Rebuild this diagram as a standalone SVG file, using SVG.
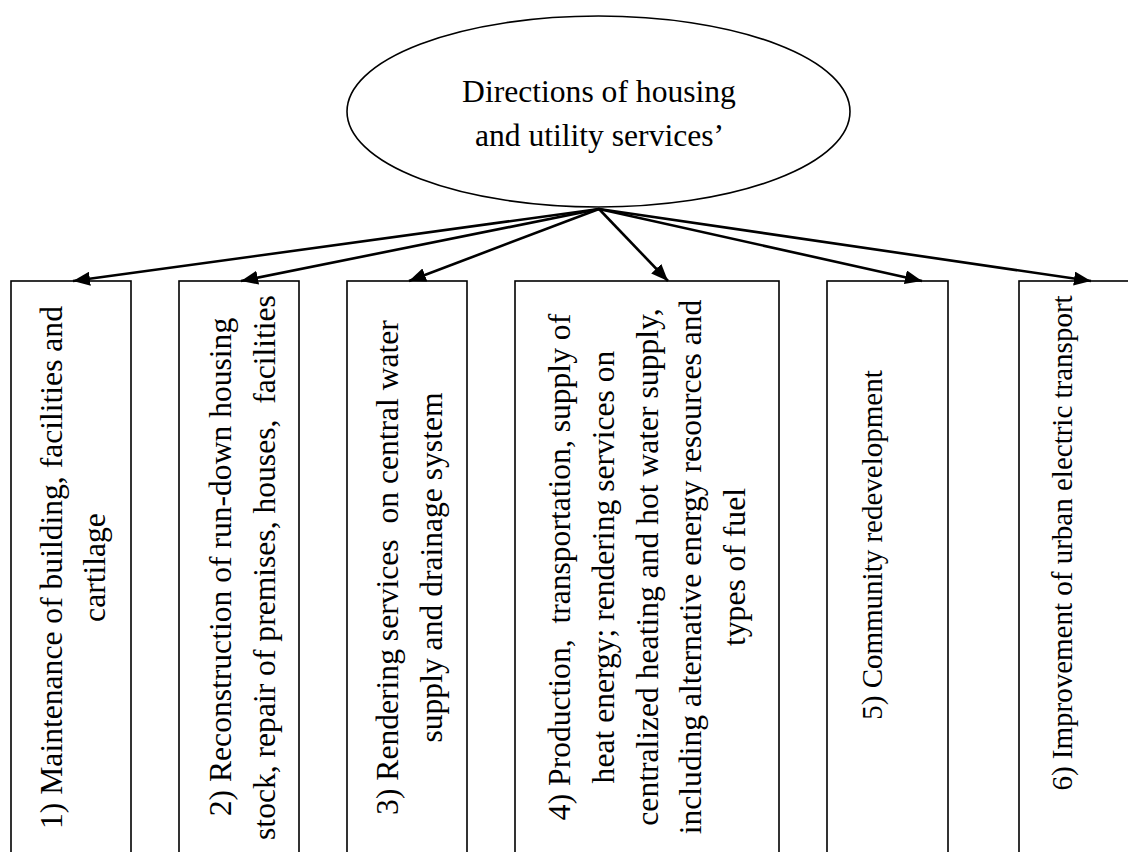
<svg xmlns="http://www.w3.org/2000/svg" width="1128" height="852" viewBox="0 0 1128 852">
<style>
.box{fill:#fff;stroke:#000;stroke-width:1.6}
.t{font-family:"Liberation Serif","Times New Roman",serif;font-size:31.6px;fill:#000;text-anchor:middle}
.s{font-size:29px}
.c{stroke:#000;stroke-width:2.6;fill:none;marker-end:url(#ah)}
</style>
<defs>
<marker id="ah" markerUnits="userSpaceOnUse" markerWidth="20" markerHeight="14" refX="17" refY="7" orient="auto">
<path d="M0,0 L17,7 L0,14 Z" fill="#000"/>
</marker>
</defs>
<rect width="1128" height="852" fill="#fff"/>
<g id="root">
<ellipse cx="598.5" cy="111.5" rx="251.5" ry="95.5" fill="#fff" stroke="#000" stroke-width="1.6"/>
<text class="t" x="599" y="102">Directions of housing</text>
<text class="t" x="599.5" y="146">and utility services’</text>
</g>
<g id="n1">
<rect class="box" x="11" y="281" width="120" height="600"/>
<text class="t" transform="translate(62,567.5) rotate(-90)">1) Maintenance of building, facilities and</text>
<text class="t" transform="translate(105,567.5) rotate(-90)">cartilage</text>
</g>
<g id="n2">
<rect class="box" x="179" y="281" width="120" height="600"/>
<text class="t" transform="translate(231,567) rotate(-90)">2) Reconstruction of run-down housing</text>
<text class="t" transform="translate(275,567.5) rotate(-90)" xml:space="preserve">stock, repair of premises, houses,  facilities</text>
</g>
<g id="n3">
<rect class="box" x="347" y="281" width="120" height="600"/>
<text class="t" transform="translate(398,567.5) rotate(-90)" xml:space="preserve">3) Rendering services  on central water</text>
<text class="t" transform="translate(442,567.5) rotate(-90)">supply and drainage system</text>
</g>
<g id="n4">
<rect class="box" x="515" y="281" width="264" height="600"/>
<text class="t" transform="translate(570,567) rotate(-90)" xml:space="preserve">4) Production,  transportation, supply of</text>
<text class="t" transform="translate(613.75,567) rotate(-90)">heat energy; rendering services on</text>
<text class="t" transform="translate(657.5,567) rotate(-90)">centralized heating and hot water supply,</text>
<text class="t" transform="translate(701.25,567) rotate(-90)">including alternative energy resources and</text>
<text class="t" transform="translate(745,567) rotate(-90)">types of fuel</text>
</g>
<g id="n5">
<rect class="box" x="827" y="281" width="121" height="600"/>
<text class="t s" transform="translate(882,545) rotate(-90)">5) Community redevelopment</text>
</g>
<g id="n6">
<rect class="box" x="1019" y="281" width="130" height="600"/>
<text class="t s" transform="translate(1072,543) rotate(-90)">6) Improvement of urban electric transport</text>
</g>
<g id="connectors">
<line class="c" x1="599" y1="209" x2="73" y2="281"/>
<line class="c" x1="599" y1="209" x2="241" y2="281"/>
<line class="c" x1="599" y1="209" x2="409" y2="281"/>
<line class="c" x1="599" y1="209" x2="668" y2="281"/>
<line class="c" x1="599" y1="209" x2="922" y2="281"/>
<line class="c" x1="599" y1="209" x2="1091" y2="281"/>
</g>
</svg>
